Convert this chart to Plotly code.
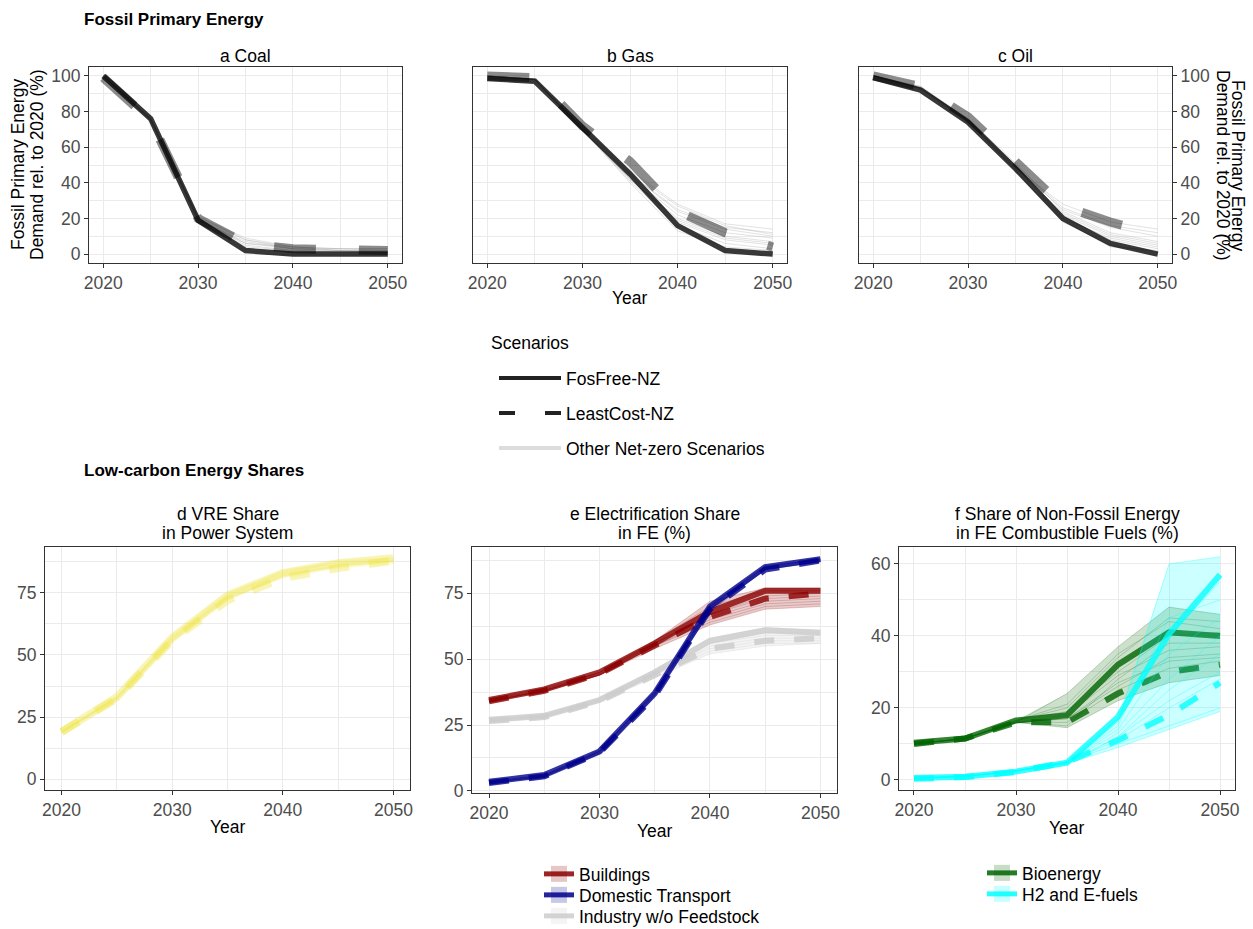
import plotly.graph_objects as go
import numpy as np

W, H = 1253, 929
years = [2020, 2025, 2030, 2035, 2040, 2045, 2050]

# ---------------- Fossil primary energy (% of 2020) ----------------
coal_fosfree = [100, 76, 19, 2, 0, 0, 0]
coal_leastcost = [99, 75, 20, 6, 3, 2, 2]
coal_others = [
    [100, 76, 20, 8, 4, 3, 3],
    [100, 75, 19, 6, 3, 2, 2],
    [100, 76, 21, 9, 4, 3, 2],
    [100, 75, 20, 5, 2, 1, 1],
    [100, 76, 19, 7, 3, 2, 1],
    [100, 76, 20, 4, 2, 2, 2],
    [100, 75, 21, 8, 3, 3, 3],
    [100, 76, 20, 6, 4, 2, 1],
]

gas_fosfree = [98.5, 97, 71, 45, 16, 2, 0]
gas_leastcost = [100, 99, 72, 52, 24, 12, 4]
gas_others = [
    [100, 98, 70, 45, 25, 15, 12],
    [100, 98, 69, 42, 20, 10, 7],
    [100, 98, 71, 47, 28, 17, 14],
    [100, 98, 70, 40, 13, 4, 2],
    [100, 98, 69, 44, 22, 12, 9],
    [100, 98, 70, 43, 18, 8, 5],
    [100, 98, 71, 46, 27, 16, 11],
    [100, 98, 70, 41, 16, 6, 3],
    [100, 98, 69, 45, 24, 14, 10],
    [100, 98, 70, 42, 19, 9, 6],
]

oil_fosfree = [99, 92, 74, 48, 20, 6, 0]
oil_leastcost = [100, 94, 77, 52, 27, 18, 11]
oil_others = [
    [100, 93, 75, 49, 25, 15, 10],
    [100, 93, 76, 50, 22, 10, 5],
    [100, 94, 75, 48, 28, 18, 14],
    [100, 93, 74, 47, 18, 5, 1],
    [100, 93, 76, 51, 24, 12, 7],
    [100, 94, 75, 49, 21, 8, 3],
    [100, 93, 75, 50, 26, 16, 12],
    [100, 93, 74, 48, 23, 11, 6],
    [100, 94, 76, 49, 20, 9, 4],
    [100, 93, 75, 47, 19, 4, 2],
]

# ---------------- Low-carbon shares (%) ----------------
vre_fosfree = [19, 33, 57, 74, 83, 87, 89]
vre_leastcost = [19, 32.5, 56, 72, 81, 85, 88]
vre_others = [
    [19, 33, 56, 73, 82, 86, 88],
    [19, 32, 57, 74, 84, 87, 89],
    [19, 33, 58, 75, 83, 88, 89],
    [19, 32, 55, 72, 82, 86, 88],
    [19, 33, 57, 73, 81, 85, 87],
    [19, 33, 56, 74, 83, 87, 88],
]

bld_fosfree = [34.5, 38.5, 45, 56, 68, 76, 76]
bld_leastcost = [34, 38, 44.5, 55.5, 66, 73, 75]
bld_others = [
    [34, 38, 44, 55, 64, 70, 71],
    [34, 38, 45, 56, 66, 72, 73],
    [35, 39, 45, 57, 70, 76, 76],
    [34, 38, 44, 54, 63, 69, 70],
    [34, 38, 45, 56, 67, 73, 74],
    [35, 38, 45, 57, 72, 77, 77],
    [34, 38, 44, 55, 65, 71, 72],
    [34, 38, 44, 56, 67, 74, 75],
]

trn_fosfree = [3.5, 6, 15, 37, 70, 85, 88]
trn_leastcost = [3, 5.5, 14.5, 36, 69, 84, 87.5]
trn_others = [
    [3, 5.5, 15, 37, 69, 84, 87],
    [3.5, 6, 15, 38, 70, 85, 88],
    [3, 5.5, 14, 36, 68, 84, 87],
    [3.5, 6, 15.5, 37, 70, 85, 88],
    [3, 5.5, 14.5, 36.5, 69, 84.5, 87.5],
    [3.5, 6, 15, 37.5, 70.5, 85.5, 88],
]

ind_fosfree = [27, 28.5, 34.5, 45, 57, 61, 60]
ind_leastcost = [26.5, 28, 34, 44, 54, 57, 58]
ind_others = [
    [27, 28.5, 34, 44, 53, 56, 56],
    [27, 29, 35, 45, 56, 60, 60],
    [26, 28, 34, 43, 52, 55, 56],
    [27, 29, 35, 46, 58, 62, 61],
    [27, 28.5, 34.5, 44, 55, 58, 58],
    [26.5, 28, 34, 45, 54, 57, 57],
    [27, 28.5, 34.5, 45, 56, 59, 59],
]

bio_fosfree = [10.3, 11.5, 16.5, 18, 32, 41, 40]
bio_leastcost = [10, 11.5, 16, 16, 24, 30, 32]
bio_others = [
    [10, 11.5, 16, 24, 37, 48, 46],
    [10, 11.5, 16.5, 20, 34, 45, 44],
    [10, 11.5, 16, 15, 28, 38, 38],
    [10, 11.5, 16, 17, 26, 34, 35],
    [10, 11.5, 16.5, 19, 30, 40, 41],
    [10, 11.5, 16, 14.5, 22, 27, 29],
    [10, 11.5, 16, 18, 29, 36, 37],
    [10, 11.5, 16.5, 21, 35, 44, 42],
    [10, 11.5, 16, 16, 25, 31, 33],
    [10, 11.5, 16, 17, 27, 33, 34],
]

h2_fosfree = [0.5, 0.9, 2.3, 4.8, 17.5, 40.5, 57]
h2_leastcost = [0.3, 0.8, 2.2, 5, 11, 18, 27]
h2_others = [
    [0.5, 1, 2.5, 5, 16, 60, 62],
    [0.5, 1, 2.5, 5, 14, 35, 45],
    [0.5, 1, 2.5, 4.5, 12, 25, 35],
    [0.5, 1, 2.5, 5, 10, 15, 20],
    [0.5, 1, 2.5, 5, 13, 28, 40],
    [0.5, 1, 2.5, 4.5, 9, 14, 19],
    [0.5, 1, 2.5, 5, 15, 45, 50],
    [0.5, 1, 2.5, 5, 11, 20, 28],
    [0.5, 1, 2.5, 4.5, 12, 22, 30],
    [0.5, 1, 2.5, 5, 17, 40, 55],
]

panel_titles = ["a Coal", "b Gas", "c Oil"]
lower_titles = [("d VRE Share", "in Power System"),
                ("e Electrification Share", "in FE (%)"),
                ("f Share of Non-Fossil Energy", "in FE Combustible Fuels (%)")]
scenario_names = ["FosFree-NZ", "LeastCost-NZ", "Other Net-zero Scenarios"]
sector_names = ["Buildings", "Domestic Transport", "Industry w/o Feedstock"]
fuel_names = ["Bioenergy", "H2 and E-fuels"]

FONT = "Liberation Sans, Arial, Helvetica, sans-serif"
FS = 17.5
fig = go.Figure()


def rgba(rgb, a):
    return "rgba(%d,%d,%d,%.3f)" % (rgb[0], rgb[1], rgb[2], a)


def add_group(ax, ff, lc, others, rgb, line_a, other_a, ribbon_a,
              w_solid, w_dash, dash, other_w=1.0):
    xa, ya = ax
    if ribbon_a > 0:
        allv = np.array([ff, lc] + others, dtype=float)
        lo, hi = allv.min(axis=0), allv.max(axis=0)
        fig.add_trace(go.Scatter(
            x=years + years[::-1], y=list(hi) + list(lo[::-1]),
            fill="toself", fillcolor=rgba(rgb, ribbon_a), mode="lines",
            line=dict(width=0), hoverinfo="skip", showlegend=False,
            xaxis=xa, yaxis=ya))
    for o in others:
        fig.add_trace(go.Scatter(
            x=years, y=o, mode="lines",
            line=dict(color=rgba(rgb, other_a), width=other_w),
            showlegend=False, xaxis=xa, yaxis=ya))
    fig.add_trace(go.Scatter(
        x=years, y=ff, mode="lines",
        line=dict(color=rgba(rgb, line_a), width=w_solid),
        showlegend=False, xaxis=xa, yaxis=ya))
    fig.add_trace(go.Scatter(
        x=years, y=lc, mode="lines",
        line=dict(color=rgba(rgb, line_a), width=w_dash, dash=dash),
        showlegend=False, xaxis=xa, yaxis=ya))


BLACK = (0, 0, 0)
GREYL = (150, 150, 150)
for (ff, lc, oth), ax in zip(
        [(coal_fosfree, coal_leastcost, coal_others),
         (gas_fosfree, gas_leastcost, gas_others),
         (oil_fosfree, oil_leastcost, oil_others)],
        [("x", "y"), ("x2", "y2"), ("x3", "y3")]):
    xa, ya = ax
    for o in oth:
        fig.add_trace(go.Scatter(x=years, y=o, mode="lines",
                                 line=dict(color=rgba(GREYL, 0.28), width=1),
                                 showlegend=False, xaxis=xa, yaxis=ya))
    fig.add_trace(go.Scatter(x=years, y=ff, mode="lines",
                             line=dict(color=rgba(BLACK, 0.78), width=5.5),
                             showlegend=False, xaxis=xa, yaxis=ya))
    fig.add_trace(go.Scatter(x=years, y=lc, mode="lines",
                             line=dict(color=rgba(BLACK, 0.45), width=9,
                                       dash="42px,43px"),
                             showlegend=False, xaxis=xa, yaxis=ya))

YEL = (240, 228, 66)
RED = (139, 0, 0)
BLUE = (0, 0, 139)
LGREY = (205, 205, 205)
GREEN = (0, 100, 0)
CYAN = (0, 255, 255)

add_group(("x4", "y4"), vre_fosfree, vre_leastcost, vre_others, YEL,
          0.38, 0.1, 0.12, 8, 8, "20px,20px", other_w=2)

add_group(("x5", "y5"), ind_fosfree, ind_leastcost, ind_others, LGREY,
          0.85, 0.3, 0.22, 6, 6, "20px,20px")
add_group(("x5", "y5"), bld_fosfree, bld_leastcost, bld_others, RED,
          0.8, 0.2, 0.2, 6, 6, "20px,20px")
add_group(("x5", "y5"), trn_fosfree, trn_leastcost, trn_others, BLUE,
          0.8, 0.2, 0.2, 6, 6, "20px,20px")

add_group(("x6", "y6"), bio_fosfree, bio_leastcost, bio_others, GREEN,
          0.8, 0.22, 0.2, 6, 6, "20px,20px")
add_group(("x6", "y6"), h2_fosfree, h2_leastcost, h2_others, CYAN,
          0.78, 0.3, 0.2, 6, 6, "20px,20px")

# ---------- legends: one single-entry legend per key ----------
legfont = dict(family=FONT, size=FS, color="#000000")
legends = {}
leg_styles = [dict(color="#222222", width=4),
              dict(color="#222222", width=4, dash="16px,30px"),
              dict(color="#DDDDDD", width=4)]
scen_y = [378, 413, 448]
k = 0
for nm, st, py in zip(scenario_names, leg_styles, scen_y):
    k += 1
    lid = "legend" if k == 1 else "legend%d" % k
    fig.add_trace(go.Scatter(x=[None], y=[None], mode="lines", name=nm,
                             line=st, legend=lid, showlegend=True))
    legends[lid] = dict(x=494 / W, y=1 - py / H, xanchor="left",
                        yanchor="middle", font=legfont, itemwidth=62,
                        bgcolor="rgba(0,0,0,0)")

box_items = [
    (sector_names[0], RED, 539, 874),
    (sector_names[1], BLUE, 539, 895),
    (sector_names[2], LGREY, 539, 916),
    (fuel_names[0], GREEN, 982, 873),
    (fuel_names[1], CYAN, 982, 894),
]
for nm, rgb, lx, py in box_items:
    k += 1
    lid = "legend%d" % k
    fig.add_trace(go.Scatter(
        x=[None], y=[None], mode="lines+markers", name=nm,
        line=dict(color=rgba(rgb, 0.85), width=5),
        marker=dict(symbol="square", size=18, color=rgba(rgb, 0.22),
                    line=dict(width=0)),
        legend=lid, showlegend=True))
    legends[lid] = dict(x=lx / W, y=1 - py / H, xanchor="left",
                        yanchor="middle", font=legfont, itemwidth=30,
                        bgcolor="rgba(0,0,0,0)")


# ---------- axes ----------
def xdom(l, r):
    return [l / W, r / W]


def ydom(t, b):
    return [1 - b / H, 1 - t / H]


GRID = "#EBEBEB"
tickfont = dict(family=FONT, size=FS, color="#4D4D4D")


def xaxis(dom, anchor, rng):
    return dict(domain=dom, anchor=anchor, range=rng, tickmode="array",
                tickvals=[2020, 2030, 2040, 2050], ticks="outside", ticklen=4,
                tickwidth=1, tickcolor="#333333", showline=True, mirror=True,
                linecolor="#333333", linewidth=1.2, showgrid=True,
                gridcolor=GRID, gridwidth=1.3, zeroline=False,
                tickfont=tickfont, automargin=False,
                minor=dict(tickmode="array", tickvals=[2025, 2035, 2045],
                           showgrid=True, gridcolor=GRID, gridwidth=0.7,
                           ticks=""))


def yaxis(dom, anchor, rng, major, minor, labels=True, side="left"):
    return dict(domain=dom, anchor=anchor, range=rng, tickmode="array",
                tickvals=major, ticks="outside" if labels else "", ticklen=4,
                tickwidth=1, tickcolor="#333333", showline=True, mirror=True,
                linecolor="#333333", linewidth=1.2, showgrid=True,
                gridcolor=GRID, gridwidth=1.3, zeroline=False,
                showticklabels=labels, side=side, tickfont=tickfont,
                automargin=False,
                minor=dict(tickmode="array", tickvals=minor, showgrid=True,
                           gridcolor=GRID, gridwidth=0.7, ticks=""))


top = ydom(67, 263)
fmaj = [0, 20, 40, 60, 80, 100]
fmin = [10, 30, 50, 70, 90]
layout_axes = dict(
    xaxis=xaxis(xdom(89, 402), "y", [2018.5, 2051.5]),
    yaxis=yaxis(top, "x", [-5, 105], fmaj, fmin),
    xaxis2=xaxis(xdom(473, 787), "y2", [2018.5, 2051.5]),
    yaxis2=yaxis(top, "x2", [-5, 105], fmaj, fmin, labels=False),
    xaxis3=xaxis(xdom(859, 1172), "y3", [2018.5, 2051.5]),
    yaxis3=yaxis(top, "x3", [-5, 105], fmaj, fmin, side="right"),
    xaxis4=xaxis(xdom(45, 410), "y4", [2018.5, 2051.5]),
    yaxis4=yaxis(ydom(547, 790), "x4", [-4.4, 93.5], [0, 25, 50, 75],
                 [12.5, 37.5, 62.5, 87.5]),
    xaxis5=xaxis(xdom(472, 837), "y5", [2018.46, 2051.5]),
    yaxis5=yaxis(ydom(547, 793), "x5", [-0.8, 92.6], [0, 25, 50, 75],
                 [12.5, 37.5, 62.5, 87.5]),
    xaxis6=xaxis(xdom(899, 1235), "y6", [2018.53, 2051.47]),
    yaxis6=yaxis(ydom(547, 790), "x6", [-2.8, 64.7], [0, 20, 40, 60],
                 [10, 30, 50]),
)

# ---------- text annotations ----------
annotations = []


def ann(text, px, py, size=FS, bold=False, xanchor="center", angle=0,
        color="#000000"):
    annotations.append(dict(
        text="<b>%s</b>" % text if bold else text, x=px / W, y=1 - py / H,
        xref="paper", yref="paper", xanchor=xanchor, yanchor="middle",
        showarrow=False, textangle=angle,
        font=dict(family=FONT, size=size, color=color)))


ann("Fossil Primary Energy", 82, 19, size=17, bold=True, xanchor="left")
ann("Low-carbon Energy Shares", 82, 470, size=17, bold=True, xanchor="left")
for t, cx in zip(panel_titles, [245.5, 630, 1015.5]):
    ann(t, cx, 56)
ann("Fossil Primary Energy", 18, 165, angle=-90)
ann("Demand rel. to 2020 (%)", 37, 165, angle=-90)
ann("Fossil Primary Energy", 1238, 165, angle=90)
ann("Demand rel. to 2020 (%)", 1223, 165, angle=90)
ann("Year", 630, 298)
for (l1, l2), cx in zip(lower_titles, [227.5, 654.5, 1067]):
    ann(l1, cx, 514)
    ann(l2, cx, 533)
ann("Year", 227.5, 827)
ann("Year", 654.5, 831)
ann("Year", 1067, 828)
ann("Scenarios", 489, 343, xanchor="left")

fig.update_layout(
    width=W, height=H,
    margin=dict(l=0, r=0, t=0, b=0, pad=0, autoexpand=False),
    paper_bgcolor="white", plot_bgcolor="white",
    font=dict(family=FONT, size=FS, color="#000000"),
    annotations=annotations,
    **legends,
    **layout_axes,
)

fig.write_html(
    "out.html",
    config={"displayModeBar": False},
    post_script="document.documentElement.style.margin='0';"
                "document.body.style.margin='0';"
                "document.documentElement.style.overflow='hidden';"
                "document.body.style.overflow='hidden';")
